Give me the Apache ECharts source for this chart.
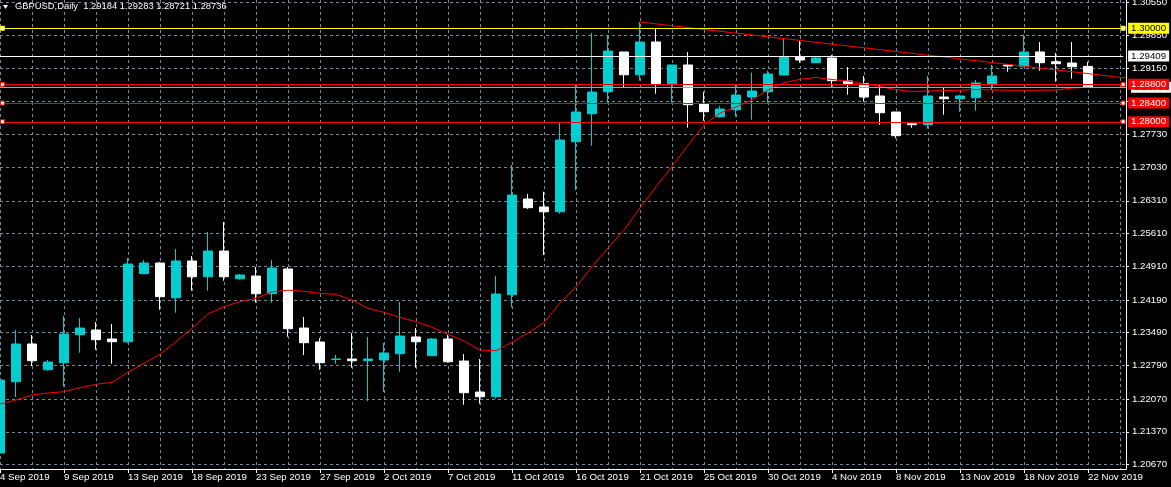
<!DOCTYPE html>
<html><head><meta charset="utf-8">
<script src="https://cdn.jsdelivr.net/npm/echarts@6/dist/echarts.min.js"></script>
<style>html,body{margin:0;padding:0;background:#000;}#c{width:1171px;height:487px;}</style>
</head><body><div id="c"></div>
<script>
const dates = ['4 Sep 2019','5 Sep 2019','6 Sep 2019','8 Sep 2019','9 Sep 2019','10 Sep 2019','11 Sep 2019','12 Sep 2019','13 Sep 2019','15 Sep 2019',
'16 Sep 2019','17 Sep 2019','18 Sep 2019','19 Sep 2019','20 Sep 2019','22 Sep 2019','23 Sep 2019','24 Sep 2019','25 Sep 2019','26 Sep 2019',
'27 Sep 2019','29 Sep 2019','30 Sep 2019','1 Oct 2019','2 Oct 2019','3 Oct 2019','4 Oct 2019','6 Oct 2019','7 Oct 2019','8 Oct 2019',
'9 Oct 2019','10 Oct 2019','11 Oct 2019','13 Oct 2019','14 Oct 2019','15 Oct 2019','16 Oct 2019','17 Oct 2019','18 Oct 2019','20 Oct 2019',
'21 Oct 2019','22 Oct 2019','23 Oct 2019','24 Oct 2019','25 Oct 2019','27 Oct 2019','28 Oct 2019','29 Oct 2019','30 Oct 2019','31 Oct 2019',
'1 Nov 2019','3 Nov 2019','4 Nov 2019','5 Nov 2019','6 Nov 2019','7 Nov 2019','8 Nov 2019','10 Nov 2019','11 Nov 2019','12 Nov 2019',
'13 Nov 2019','14 Nov 2019','15 Nov 2019','17 Nov 2019','18 Nov 2019','19 Nov 2019','20 Nov 2019','21 Nov 2019','22 Nov 2019'];

const open = [1.20916,1.22441,1.23247,1.22697,1.22847,1.23446,1.23546,1.23354,1.23296,1.24750,
1.24979,1.24237,1.25022,1.24686,1.25236,1.24643,1.24701,1.24323,1.24851,1.23589,
1.23290,1.22916,1.22926,1.22890,1.22905,1.23040,1.23397,1.22997,1.23354,1.22883,
1.22220,1.22120,1.24301,1.26348,1.26177,1.26076,1.27573,1.28172,1.28643,1.29492,
1.29006,1.29706,1.28814,1.29214,1.28380,1.28108,1.28258,1.28529,1.28643,1.29000,
1.29385,1.29263,1.29363,1.28872,1.28814,1.28551,1.28209,1.27958,1.27937,1.28529,
1.28493,1.28514,1.28807,1.29214,1.29177,1.29492,1.29284,1.29256,1.29184];

const high = [1.22605,1.23546,1.23439,1.22905,1.23846,1.23803,1.23717,1.23675,1.25086,1.25043,
1.25001,1.25279,1.25129,1.25642,1.25856,1.24744,1.24894,1.25043,1.24894,1.23824,
1.23375,1.23012,1.23482,1.23397,1.23268,1.24145,1.23589,1.23375,1.23439,1.23033,
1.22926,1.24701,1.27075,1.26455,1.26504,1.27995,1.28807,1.29898,1.29834,1.29492,
1.30133,1.29983,1.29214,1.29492,1.28643,1.28337,1.28792,1.29049,1.29092,1.29770,
1.29727,1.29406,1.29427,1.29171,1.28979,1.28786,1.28209,1.27980,1.28979,1.28743,
1.28579,1.28893,1.29214,1.29235,1.29862,1.29706,1.29470,1.29706,1.29283];

const low = [1.20852,1.22114,1.22777,1.22676,1.22334,1.23061,1.23125,1.22826,1.23268,1.24744,
1.23981,1.23916,1.24387,1.24387,1.24601,1.24622,1.24130,1.24130,1.23403,1.23012,
1.22697,1.22826,1.22740,1.22028,1.22227,1.22655,1.22740,1.22997,1.22847,1.21949,
1.21970,1.22081,1.24032,1.26134,1.25150,1.26034,1.26540,1.27488,1.28407,1.28728,
1.28878,1.28600,1.28407,1.27873,1.28022,1.28087,1.28108,1.28044,1.28407,1.29000,
1.29263,1.29263,1.28750,1.28579,1.28429,1.27937,1.27646,1.27873,1.27851,1.28151,
1.28215,1.28236,1.28679,1.29070,1.29177,1.29092,1.28857,1.28921,1.28721];

const close = [1.22477,1.23247,1.22890,1.22862,1.23461,1.23589,1.23339,1.23296,1.24958,1.24979,
1.24259,1.25022,1.24686,1.25236,1.24686,1.24723,1.24323,1.24872,1.23574,1.23275,
1.22847,1.22926,1.22890,1.22926,1.23055,1.23418,1.23296,1.23354,1.22868,1.22206,
1.22120,1.24316,1.26434,1.26162,1.26076,1.27610,1.28209,1.28636,1.29513,1.29006,
1.29706,1.28814,1.29214,1.28365,1.28215,1.28273,1.28572,1.28658,1.29021,1.29385,
1.29321,1.29363,1.28878,1.28814,1.28529,1.28194,1.27702,1.27937,1.28551,1.28493,
1.28551,1.28829,1.28979,1.29192,1.29492,1.29263,1.29241,1.29177,1.28736];

const ma = [1.21964,1.22049,1.22156,1.22199,1.22227,1.22312,1.22385,1.22428,1.22642,1.22834,
1.23027,1.23296,1.23583,1.23889,1.24045,1.24152,1.24224,1.24365,1.24398,1.24374,
1.24331,1.24310,1.24188,1.24010,1.23925,1.23818,1.23724,1.23604,1.23454,1.23311,
1.23119,1.23104,1.23283,1.23482,1.23703,1.24124,1.24466,1.24900,1.25300,1.25685,
1.26155,1.26611,1.27039,1.27503,1.27930,1.28187,1.28315,1.28465,1.28679,1.28835,
1.28908,1.28946,1.28904,1.28872,1.28807,1.28754,1.28690,1.28647,1.28658,1.28668,
1.28673,1.28690,1.28679,1.28673,1.28673,1.28673,1.28679,1.28722,1.28737];

const yTicks = [1.20670,1.21370,1.22070,1.22790,1.23490,1.24190,1.24910,1.25610,1.26310,1.27030,1.27730,1.28440,1.29150,1.29850,1.30550];
const xLabelIdx = [0,4,8,12,16,20,24,28,32,36,40,44,48,52,56,60,64,68];
const gridX = [0,2,4,6,8,10,12,14,16,18,20,22,24,26,28,30,32,34,36,38,40,42,44,46,48,50,52,54,56,58,60,62,64,66,68,70];

const levels = [1.30000, 1.29409, 1.28800, 1.28400, 1.28000];
const levelColors = ['#ffff00', '#ffffff', '#ff0000', '#ff0000', '#ff0000'];
const levelTextColors = ['#000000', '#000000', '#ffffff', '#ffffff', '#ffffff'];
const levelHandles = [true, false, true, true, true];
const bidPrice = 1.28736;
const trendX = [40, 70.375];
const trendY = [1.30133, 1.28936];
const headerText = 'GBPUSD,Daily  1.29184 1.29283 1.28721 1.28736';

const X_MIN = 0, X_MAX = 70.375;
const Y_MIN = 1.20574, Y_MAX = 1.30604;
const FONT = 'Liberation Sans';
const GRID_COLOR = '#778899';

const candleData = dates.map((d, i) => [i, open[i], close[i], low[i], high[i]]);
const maData = ma.map((v, i) => [i, v]);
const trendData = trendX.map((x, i) => [x, trendY[i]]);

function lvlLabel(text, bg, fg) {
  return { show: true, position: 'end', distance: 5, formatter: text, color: fg, backgroundColor: bg,
    padding: [1, 3, 0, 3], fontSize: 9.7, fontFamily: FONT, lineHeight: 10 };
}

const levelLines = levels.map((v, i) => [
  { coord: [X_MIN, v], lineStyle: { color: levelColors[i], width: 1, type: 'solid' },
    label: lvlLabel(v.toFixed(5), levelColors[i], levelTextColors[i]) },
  { coord: [X_MAX - 0.18, v] }
]);

const handleData = [];
levels.forEach((v, i) => {
  if (!levelHandles[i]) return;
  handleData.push({ value: [X_MIN + 0.15, v], itemStyle: { borderColor: levelColors[i] } });
  handleData.push({ value: [X_MAX - 0.18, v], itemStyle: { borderColor: levelColors[i] } });
});

const chart = echarts.init(document.getElementById('c'), null, { renderer: 'canvas' });
chart.setOption({
  backgroundColor: '#000000',
  animation: false,
  grid: { left: 0, right: 45, top: 0, bottom: 18, containLabel: false, outerBoundsMode: 'none' },
  graphic: [
    { type: 'polygon', shape: { points: [[3, 5], [8, 5], [5.5, 9]] }, style: { fill: '#ffffff' } },
    { type: 'text', left: 15, top: 1.5, style: { text: headerText, fill: '#ffffff', font: '9.4px "Liberation Sans"' } }
  ],
  xAxis: [
    {
      type: 'value', min: X_MIN, max: X_MAX, position: 'bottom',
      axisLine: { show: true, onZero: false, lineStyle: { color: '#ffffff', width: 1 } },
      axisTick: { show: false, customValues: gridX },
      axisLabel: { show: true, customValues: xLabelIdx, formatter: v => dates[Math.round(v)] || '',
        color: '#ffffff', fontSize: 9.7, fontFamily: FONT, align: 'left', margin: 3 },
      splitLine: { show: true, lineStyle: { color: GRID_COLOR, type: [3, 3], width: 1 } },
      minorTick: { show: false }, minorSplitLine: { show: false }
    },
    {
      type: 'value', min: X_MIN, max: X_MAX, position: 'bottom',
      axisLine: { show: false },
      axisTick: { show: true, customValues: xLabelIdx, length: 4, lineStyle: { color: '#ffffff' } },
      axisLabel: { show: false },
      splitLine: { show: false }
    }
  ],
  yAxis: {
    type: 'value', position: 'right', min: Y_MIN, max: Y_MAX,
    axisLine: { show: true, onZero: false, lineStyle: { color: '#ffffff', width: 1 } },
    axisTick: { show: true, customValues: yTicks, length: 3, lineStyle: { color: '#ffffff' } },
    axisLabel: { show: true, customValues: yTicks, formatter: v => v.toFixed(5),
      color: '#ffffff', fontSize: 9.7, fontFamily: FONT, margin: 6 },
    splitLine: { show: true, lineStyle: { color: GRID_COLOR, type: [3, 3], width: 1 } }
  },
  series: [
    {
      type: 'candlestick', xAxisIndex: 0, yAxisIndex: 0, barWidth: 10, z: 2,
      data: candleData,
      itemStyle: { color: '#00ced1', color0: '#ffffff', borderColor: '#00ced1', borderColor0: '#ffffff', borderWidth: 1 }
    },
    {
      type: 'line', xAxisIndex: 0, yAxisIndex: 0, z: 3, data: trendData, symbol: 'none',
      lineStyle: { color: '#ff0000', width: 1 },
      markLine: {
        silent: true, symbol: ['none', 'none'], animation: false,
        data: [[
          { coord: [X_MIN, bidPrice], lineStyle: { color: '#9aa5b1', width: 1, type: 'solid' },
            label: lvlLabel(bidPrice.toFixed(5), '#ffffff', '#000000') },
          { coord: [X_MAX, bidPrice] }
        ]]
      }
    },
    {
      type: 'line', xAxisIndex: 0, yAxisIndex: 0, z: 4, data: maData, symbol: 'none',
      lineStyle: { color: '#ff0000', width: 1 },
      markLine: { silent: true, symbol: ['none', 'none'], animation: false, data: levelLines }
    },
    {
      type: 'scatter', xAxisIndex: 0, yAxisIndex: 0, z: 5, symbol: 'rect', symbolSize: 4,
      data: handleData,
      itemStyle: { color: '#ffffff', borderWidth: 1, opacity: 1 }
    }
  ]
});
</script>
</body></html>
